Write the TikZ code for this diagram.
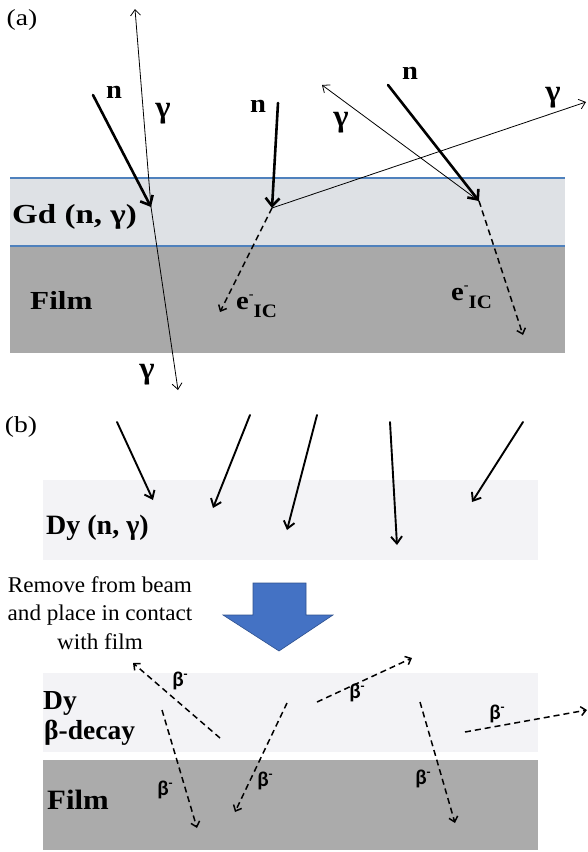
\documentclass[tikz,border=0pt]{standalone}
\usepackage{fontspec}
\setmainfont{Liberation Serif}
\newfontfamily\betafont{Carlito}
\usetikzlibrary{arrows.meta}
\definecolor{gdcol}{RGB}{222,225,229}
\definecolor{filmA}{RGB}{169,169,169}
\definecolor{filmB}{RGB}{171,171,171}
\definecolor{dycol}{RGB}{243,243,246}
\definecolor{bline}{RGB}{79,129,189}
\definecolor{arrblue}{RGB}{68,114,196}
\definecolor{arredge}{RGB}{47,82,143}
\tikzset{
  lab/.style={font=\bfseries\fontsize{#1}{#1}\selectfont, inner sep=0pt, xscale=1.2},
  lab/.default=25,
  labb/.style={font=\bfseries\fontsize{#1}{#1}\selectfont, inner sep=0pt},
  labb/.default=28,
  gl/.style={font=\bfseries\fontsize{26}{30}\selectfont, inner sep=0pt, xscale=1.1},
  gml/.style={font=\bfseries\fontsize{31}{34}\selectfont, inner sep=0pt, xscale=1.05},
  pl/.style={font=\fontsize{23}{28}\selectfont, inner sep=0pt, xscale=1.2},
  bl/.style={font=\betafont\bfseries\fontsize{21}{23}\selectfont, inner sep=0pt},
  neut/.style={line width=2.6pt, line cap=round, -{Straight Barb[length=8pt,width=14pt]}},
  bneut/.style={line width=1.9pt, line cap=round, -{Straight Barb[length=7pt,width=11pt]}},
  gam/.style={line width=0.8pt, -{Straight Barb[length=6pt,width=10pt]}},
  elec/.style={line width=1.5pt, dash pattern=on 6pt off 4pt, -{Straight Barb[length=5pt,width=9pt]}},
}
\newcommand{\eic}{e\raisebox{0.42em}{\fontsize{13}{14}\selectfont -}\raisebox{-0.32em}{\fontsize{19}{20}\selectfont IC}}
\newcommand{\bm}{β\raisebox{0.4em}{\fontsize{13}{14}\selectfont -}}
\begin{document}
\begin{tikzpicture}[x=1pt,y=-1pt]
\useasboundingbox (0,0) rectangle (587,852);
% ---------- (a) ----------
\fill[gdcol] (10,178) rectangle (565,246);
\fill[filmA] (10,246) rectangle (565,353);
\draw[bline, line width=1.1pt] (10,178) -- (565,178);
\draw[bline, line width=1.1pt] (10,246) -- (565,246);

\node[pl] (la) at (22,20) {(a)};
\node[lab=27.5, anchor=west] (gd) at (12,217) {Gd (n, γ)};
\node[lab=26, anchor=west] (filma) at (30,300) {Film};

\coordinate (p1) at (151,207);
\coordinate (p2) at (272,208);
\coordinate (p3) at (479,201);
\coordinate (n1s) at (93,95);
\coordinate (n2s) at (278,103);
\coordinate (n3s) at (388,85);
\coordinate (g1u) at (135,9);
\coordinate (g1d) at (178,390);
\coordinate (g2) at (586,102);
\coordinate (g3) at (322,85);
\coordinate (e1) at (220,312);
\coordinate (e2) at (523,335);

\draw[gam] (p1) -- (g1u);
\draw[gam] (p1) -- (g1d);
\draw[gam] (p2) -- (g2);
\draw[gam] (p3) -- (g3);
\draw[neut] (n1s) -- (p1);
\draw[neut] (n2s) -- (p2);
\draw[neut] (n3s) -- (p3);
\draw[elec] (p2) -- (e1);
\draw[elec] (p3) -- (e2);

\node[gl] (ln1) at (114,92) {n};
\node[gl] (ln2) at (258,106) {n};
\node[gl] (ln3) at (410,73) {n};
\node[gml] (lg1) at (163,114) {γ};
\node[gml] (lg3) at (341,123) {γ};
\node[gml] (lg2) at (553,98) {γ};
\node[gml] (lg4) at (147,375) {γ};
\node[gl, anchor=base west] (le1) at (236,309) {\eic};
\node[gl, anchor=base west] (le2) at (451,300) {\eic};

% ---------- (b) ----------
\node[pl] (lb) at (21,427) {(b)};
\fill[dycol] (43,480) rectangle (538,560);
\node[labb=28, anchor=west] (dy1) at (46,528) {Dy (n, γ)};

\coordinate (a1s) at (117,422); \coordinate (a1e) at (153,500);
\coordinate (a2s) at (250,415); \coordinate (a2e) at (213,508);
\coordinate (a3s) at (317,415); \coordinate (a3e) at (287,530);
\coordinate (a4s) at (390,422); \coordinate (a4e) at (397,545);
\coordinate (a5s) at (523,422); \coordinate (a5e) at (472,502);
\draw[bneut] (a1s) -- (a1e);
\draw[bneut] (a2s) -- (a2e);
\draw[bneut] (a3s) -- (a3e);
\draw[bneut] (a4s) -- (a4e);
\draw[bneut] (a5s) -- (a5e);

\node[align=center, font=\fontsize{22.5}{28.5}\selectfont, inner sep=0pt, xscale=1.03] (rm) at (100,613) {Remove from beam\\and place in contact\\with film};
\draw[fill=arrblue, draw=arredge, line width=0.6pt] (253,583) -- (306,583) -- (306,615) -- (333,615) -- (279,651) -- (223,615) -- (253,615) -- cycle;

\fill[dycol] (43,673) rectangle (538,752);
\fill[filmB] (43,760) rectangle (538,850);
\node[labb=27.5, anchor=west] (dy2) at (43,703) {Dy};
\node[labb=27.5, anchor=west] (bd) at (44,733) {β-decay};
\node[labb=28, xscale=1.1] (filmb) at (78,800) {Film};

\coordinate (b1s) at (220,738); \coordinate (b1e) at (133,663);
\coordinate (b2s) at (162,710); \coordinate (b2e) at (197,828);
\coordinate (b3s) at (287,703); \coordinate (b3e) at (235,812);
\coordinate (b4s) at (317,702); \coordinate (b4e) at (412,658);
\coordinate (b5s) at (420,702); \coordinate (b5e) at (455,823);
\coordinate (b6s) at (465,732); \coordinate (b6e) at (587,710);
\draw[elec] (b1s) -- (b1e);
\draw[elec] (b2s) -- (b2e);
\draw[elec] (b3s) -- (b3e);
\draw[elec] (b4s) -- (b4e);
\draw[elec] (b5s) -- (b5e);
\draw[elec] (b6s) -- (b6e);

\node[bl] (lb1) at (180,681) {\bm};
\node[bl] (lb2) at (165,790) {\bm};
\node[bl] (lb3) at (265,781) {\bm};
\node[bl] (lb4) at (357,693) {\bm};
\node[bl] (lb5) at (423,779) {\bm};
\node[bl] (lb6) at (497,714) {\bm};
\end{tikzpicture}
\end{document}
